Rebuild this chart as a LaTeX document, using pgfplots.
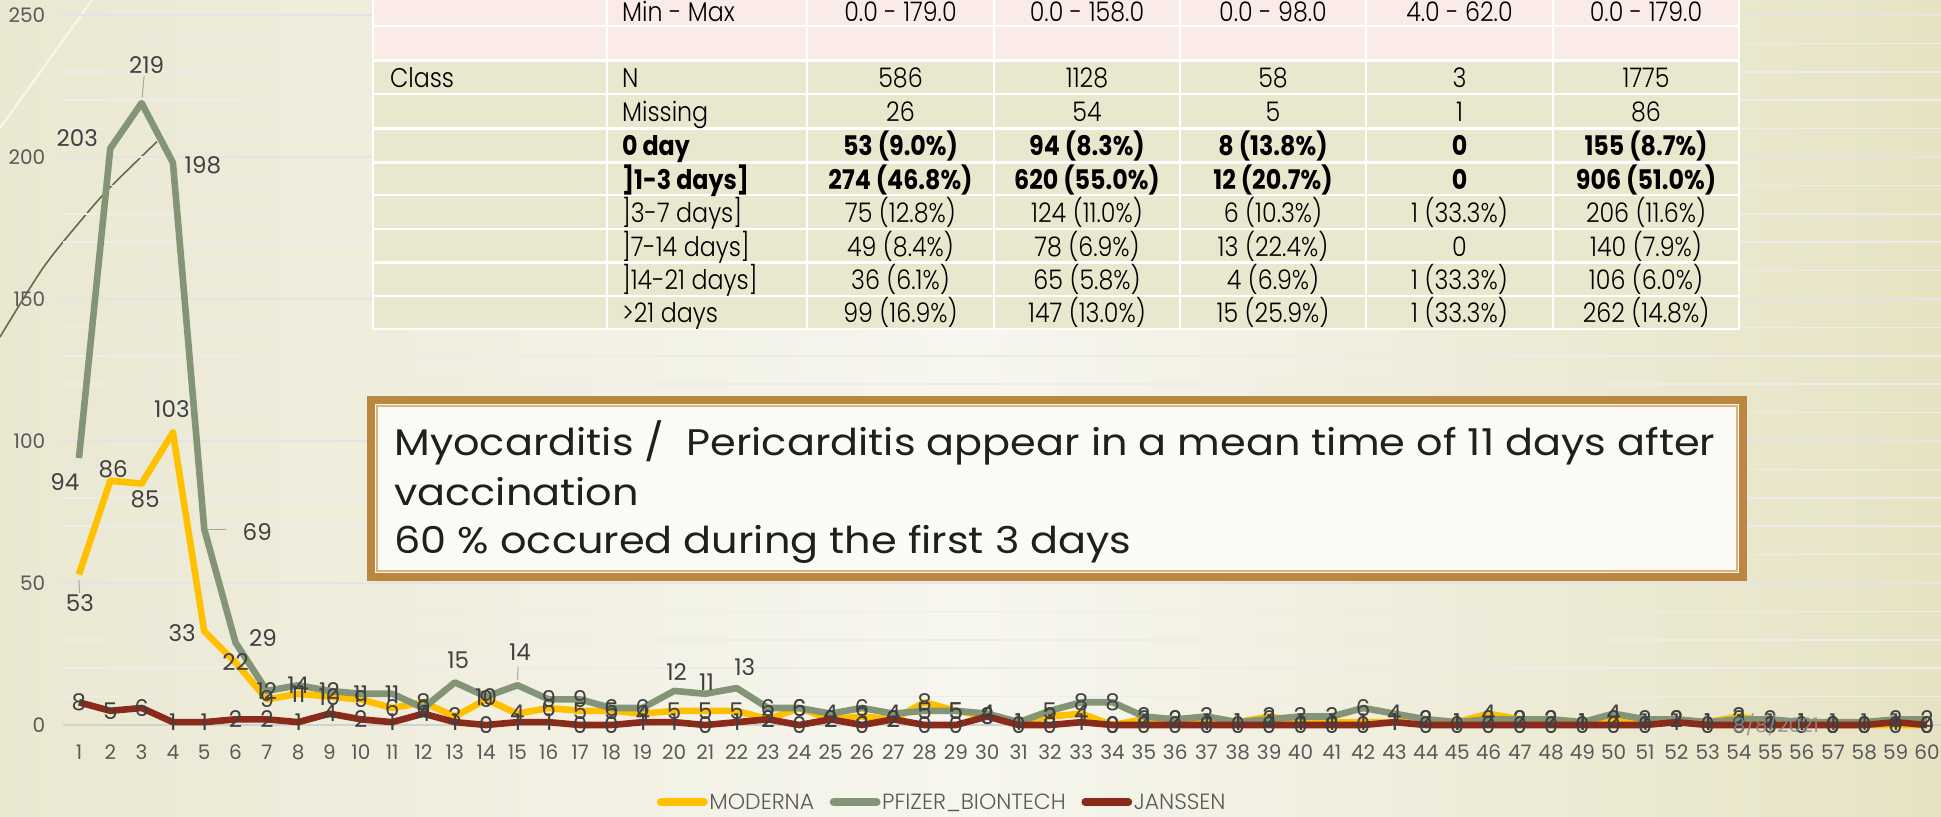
\documentclass[border=0pt]{standalone}
\usepackage{fontspec}
\setmainfont{Poppins}
\newfontfamily\tabfont[FakeStretch=0.88, UprightFont=* Light, BoldFont=* Bold]{Poppins}
\newfontfamily\legfont[FakeStretch=1.0, UprightFont=* Light]{Poppins}
\newfontfamily\boxfont[FakeStretch=1.12]{Poppins}
\usepackage{pgfplots}
\pgfplotsset{compat=1.18}
\usepackage{pgfplotstable}

\definecolor{cMod}{HTML}{FFC000}
\definecolor{cPf}{HTML}{849577}
\definecolor{cJa}{HTML}{8A2A1A}
\definecolor{tickc}{HTML}{595959}
\definecolor{lblc}{HTML}{404040}
\definecolor{gmaj}{HTML}{E4E4E6}
\definecolor{gmin}{HTML}{ECECEA}
\definecolor{bgL}{HTML}{EAE8D1}
\definecolor{bgM}{HTML}{F7F6EF}
\definecolor{bgR}{HTML}{E6E3C4}
\definecolor{tpink}{HTML}{FAEBE6}
\definecolor{tbeige}{HTML}{E9E7CE}
\definecolor{boxbrd}{HTML}{BB863F}
\definecolor{boxhl}{HTML}{DDB277}
\definecolor{deco}{HTML}{5E6E4A}

\pgfplotstableread{
x y dx dy
1 53 0.5 -14.25
2 86 1.4 6
3 85 1.7 -7.7
4 103 -0.5 11.75
5 33 -11 -1
6 22 0 0
7 9 0 0
8 11 0 0
9 10 0 0
10 9 0 0
11 6 0 0
12 8 0 0
13 3 0 0
14 9 0 0
15 4 0 0
16 6 0 0
17 5 0 0
18 5 0 0
19 4 0 0
20 5 0 0
21 5 0 0
22 5 0 0
23 2 0 0
24 6 0 0
25 2 0 0
26 3 0 0
27 2 0 0
28 8 0 0
29 5 0 0
30 3 0 0
31 1 0 0
32 3 0 0
33 4 0 0
34 0 0 0
35 2 0 0
36 2 0 0
37 1 0 0
38 1 0 0
39 3 0 0
40 1 0 0
41 1 0 0
42 1 0 0
43 1 0 0
44 2 0 0
45 1 0 0
46 4 0 0
47 2 0 0
48 2 0 0
49 1 0 0
50 2 0 0
51 1 0 0
52 2 0 0
53 1 0 0
54 3 0 0
55 1 0 0
56 1 0 0
57 0 0 0
58 0 0 0
59 0 0 0
60 0 0 0
}\tabM

\pgfplotstableread{
x y dx dy
1 94 -7 -12
2 203 -16.5 5
3 219 2.5 19
4 198 15 -1.5
5 69 26.5 -1.5
6 29 13.75 2.3
7 12 0 0
8 14 0 0
9 12 0 0
10 11 0 0
11 11 0 0
12 6 0 0
13 15 1.7 11
14 10 0 0
15 14 1.25 16.75
16 9 0 0
17 9 0 0
18 6 0 0
19 6 0 0
20 12 1.3 9.6
21 11 0.6 6
22 13 4 10.7
23 6 0 0
24 6 0 0
25 4 0 0
26 6 0 0
27 4 0 0
28 5 0 0
29 5 0 0
30 4 0 0
31 1 0 0
32 5 0 0
33 8 0 0
34 8 0 0
35 3 0 0
36 2 0 0
37 3 0 0
38 1 0 0
39 2 0 0
40 3 0 0
41 3 0 0
42 6 0 0
43 4 0 0
44 2 0 0
45 1 0 0
46 2 0 0
47 2 0 0
48 2 0 0
49 1 0 0
50 4 0 0
51 2 0 0
52 2 0 0
53 1 0 0
54 2 0 0
55 2 0 0
56 1 0 0
57 1 0 0
58 1 0 0
59 2 0 0
60 2 0 0
}\tabP

\pgfplotstableread{
x y dx dy
1 8 0 0
2 5 0 0
3 6 0 0
4 1 0 0
5 1 0 0
6 2 0 0
7 2 0 0
8 1 0 0
9 4 0 0
10 2 0 0
11 1 0 0
12 4 0 0
13 1 0 0
14 0 0 0
15 1 0 0
16 1 0 0
17 0 0 0
18 0 0 0
19 1 0 0
20 1 0 0
21 0 0 0
22 1 0 0
23 2 0 0
24 0 0 0
25 2 0 0
26 0 0 0
27 2 0 0
28 0 0 0
29 0 0 0
30 3 0 0
31 0 0 0
32 0 0 0
33 1 0 0
34 0 0 0
35 0 0 0
36 0 0 0
37 0 0 0
38 0 0 0
39 0 0 0
40 0 0 0
41 0 0 0
42 0 0 0
43 1 0 0
44 0 0 0
45 0 0 0
46 0 0 0
47 0 0 0
48 0 0 0
49 0 0 0
50 0 0 0
51 0 0 0
52 1 0 0
53 0 0 0
54 0 0 0
55 0 0 0
56 0 0 0
57 0 0 0
58 0 0 0
59 1 0 0
60 0 0 0
}\tabJ

\pgfplotsset{
  lbl/.style={
    nodes near coords,
    visualization depends on={\thisrow{dx} \as \dx},
    visualization depends on={\thisrow{dy} \as \dy},
    every node near coord/.append style={anchor=center, xshift=\dx pt, yshift=\dy pt,
      font=\fontsize{11.5}{12}\selectfont, text=lblc, inner sep=0pt},
  },
}

\newcommand{\rowtext}[9]{%
  \node[anchor=base west, font=#1] at (383,#2) {#3};
  \node[anchor=base west, font=#1] at (615,#2) {#4};
  \node[anchor=base, font=#1] at (900.5,#2) {#5};
  \node[anchor=base, font=#1] at (1087,#2) {#6};
  \node[anchor=base, font=#1] at (1273,#2) {#7};
  \node[anchor=base, font=#1] at (1459.5,#2) {#8};
  \node[anchor=base, font=#1] at (1646,#2) {#9};
}

\begin{document}
\begin{tikzpicture}
\path[use as bounding box] (0pt,0pt) rectangle (970.5pt,408pt);
\begin{scope}[x=0.5pt,y=-0.5pt,shift={(0pt,408pt)}]
  \shade[left color=bgL, right color=bgR, middle color=bgM] (0,0) rectangle (1941,816);
  \draw[white!60!bgL, line width=1.2pt] (92,0) -- (0,128);
  \draw[deco, line width=0.8pt] plot[smooth] coordinates {(0,337) (43,268) (83,218) (110,187.5) (157,141.6)};
\end{scope}

\begin{axis}[
  at={(31.65pt,45.5pt)}, anchor=south west,
  scale only axis, width=938.85pt, height=355pt,
  xmin=0.5, xmax=60.45, ymin=0, ymax=250,
  xtick={1,...,60}, ytick={0,50,...,250},
  minor y tick num=4,
  ymajorgrids, yminorgrids,
  major grid style={line width=1pt, draw=gmaj},
  minor grid style={line width=0.8pt, draw=gmin},
  axis line style={draw=none},
  major tick length=0pt, minor tick length=0pt,
  tick style={draw=none},
  /pgf/number format/assume math mode=true,
  ticklabel style={font=\fontsize{10}{11}\selectfont, text=tickc},
  yticklabel style={xshift=-5.5pt},
  xticklabel style={yshift=-6.5pt},
  clip=false,
  legend columns=3,
  legend style={at={(0.4680,-0.1085)}, anchor=center, draw=none, fill=none,
    font=\legfont\fontsize{11}{12}\selectfont, text=tickc, inner sep=0pt,
    nodes={inner sep=0.8pt, text depth=0pt},
    /tikz/every even column/.append style={column sep=7pt}},
  legend image code/.code={\draw[#1, line width=3.8pt, line cap=round] (1.9pt,0pt) -- (23.5pt,0pt);},
]
\draw[line width=1pt, draw=black!18] (axis cs:0.5,0) -- (axis cs:60.45,0);
\addplot[color=cMod, line width=3.3pt, line join=round, mark=none, lbl] table[x=x,y=y] {\tabM};
\addlegendentry{MODERNA}
\addplot[color=cPf, line width=3.3pt, line join=round, mark=none, lbl] table[x=x,y=y] {\tabP};
\addlegendentry{PFIZER\_BIONTECH}
\addplot[color=cJa, line width=3.3pt, line join=round, mark=none, lbl] table[x=x,y=y] {\tabJ};
\addlegendentry{JANSSEN}
\draw[black!35, line width=0.5pt] (axis cs:3.02,221) -- (axis cs:3.08,228.5);
\draw[black!35, line width=0.5pt] (axis cs:5.1,69) -- (axis cs:5.7,69);
\draw[black!35, line width=0.5pt] (axis cs:1,51) -- (axis cs:1.02,46.5);
\draw[black!35, line width=0.5pt] (axis cs:15,16) -- (axis cs:15.02,20.6);
\end{axis}

\begin{scope}[x=0.5pt,y=-0.5pt,shift={(0pt,408pt)}]
  % table
  \fill[white] (372,-12) rectangle (1740,330);
  \foreach \ya/\yb/\cc in {-12/26/tpink, 26/60.7/tpink, 60.7/94/tbeige, 94/128.3/tbeige, 128.3/162.3/tbeige, 162.3/195/tbeige, 195/229/tbeige, 229/262.3/tbeige, 262.3/295.7/tbeige, 295.7/328.8/tbeige}{
    \foreach \xa/\xb in {373/607, 607/807, 807/994, 994/1180, 1180/1366, 1366/1553, 1553/1739.5}{
      \fill[\cc] (\xa+1.2,\ya+1.2) rectangle (\xb-1.2,\yb-1.2);
    }
  }
  \def\tf{\tabfont\fontsize{13.5}{16}\selectfont\color{black}}
  \def\tb{\tabfont\fontsize{13.5}{16}\selectfont\bfseries\color{black}}
  \rowtext{\tf}{21.2}{}{Min - Max}{0.0 - 179.0}{0.0 - 158.0}{0.0 - 98.0}{4.0 - 62.0}{0.0 - 179.0}
  \rowtext{\tf}{87.5}{Class}{N}{586}{1128}{58}{3}{1775}
  \rowtext{\tf}{121.5}{}{Missing}{26}{54}{5}{1}{86}
  \rowtext{\tb}{155.5}{}{0 day}{53 (9.0\%)}{94 (8.3\%)}{8 (13.8\%)}{0}{155 (8.7\%)}
  \rowtext{\tb}{189}{}{]1-3 days]}{274 (46.8\%)}{620 (55.0\%)}{12 (20.7\%)}{0}{906 (51.0\%)}
  \rowtext{\tf}{222.5}{}{]3-7 days]}{75 (12.8\%)}{124 (11.0\%)}{6 (10.3\%)}{1 (33.3\%)}{206 (11.6\%)}
  \rowtext{\tf}{256}{}{]7-14 days]}{49 (8.4\%)}{78 (6.9\%)}{13 (22.4\%)}{0}{140 (7.9\%)}
  \rowtext{\tf}{289.5}{}{]14-21 days]}{36 (6.1\%)}{65 (5.8\%)}{4 (6.9\%)}{1 (33.3\%)}{106 (6.0\%)}
  \rowtext{\tf}{322.5}{}{>21 days}{99 (16.9\%)}{147 (13.0\%)}{15 (25.9\%)}{1 (33.3\%)}{262 (14.8\%)}
  % text box
  \fill[black!10, opacity=0.35] (375,405) rectangle (1748,583);
  \fill[white!55!bgM, opacity=0.95] (371,400) rectangle (1743,577);
  \draw[boxbrd, line width=4pt] (371,400) rectangle (1743,577);
  \draw[boxhl, line width=0.8pt] (377,406) rectangle (1737,571);
  \begin{scope}[every node/.style={anchor=base west, inner sep=0pt, font=\boxfont\fontsize{18.5}{20}\selectfont, text=black!88}]
    \node at (394,455.6) {Myocarditis /\ \ Pericarditis appear in a mean time of 11 days after};
    \node at (394,505) {vaccination};
    \node at (394,553) {60 \% occured during the first 3 days};
  \end{scope}
  \node[text=black!45, opacity=0.85, font=\fontsize{10}{10}\selectfont] at (1776,725) {8/8/2021};
\end{scope}
\end{tikzpicture}
\end{document}
